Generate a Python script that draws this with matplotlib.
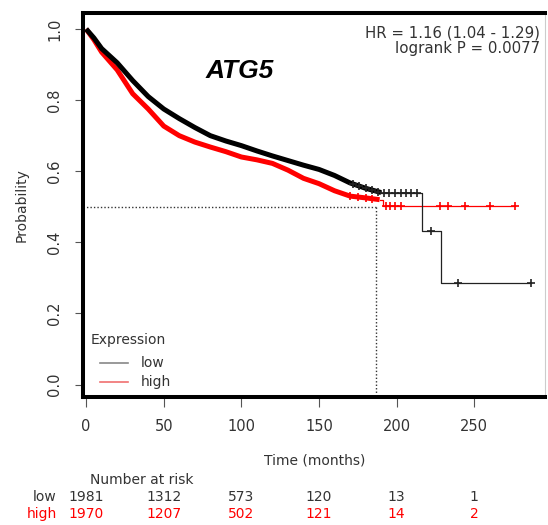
import numpy as np
import matplotlib
matplotlib.use("Agg")
import matplotlib.pyplot as plt
import matplotlib.transforms as mtransforms

# survival curves (months, probability)
low_t = [0, 5, 10, 20, 30, 40, 50, 60, 70, 80, 90, 100, 110, 120, 130, 140, 150, 160, 170, 180, 190]
low_s = [1.0, 0.975, 0.945, 0.905, 0.855, 0.81, 0.775, 0.748, 0.723, 0.70, 0.685, 0.672, 0.657,
         0.643, 0.63, 0.617, 0.605, 0.588, 0.567, 0.552, 0.54]
low_tail_t = [190, 216, 228.3, 286.5]
low_tail_s = [0.538, 0.431, 0.287, 0.287]
low_cens = [172, 176, 180, 184, 188, 192, 195, 199, 203, 206, 209, 213, 222, 239.4, 286.5]

high_t = [0, 5, 10, 20, 30, 40, 50, 60, 70, 80, 90, 100, 110, 120, 130, 140, 150, 160, 170, 180, 189]
high_s = [1.0, 0.97, 0.935, 0.885, 0.818, 0.775, 0.727, 0.70, 0.682, 0.668, 0.655, 0.64, 0.632,
          0.622, 0.603, 0.58, 0.565, 0.545, 0.53, 0.525, 0.52]
high_tail_t = [189, 191, 276.4]
high_tail_s = [0.52, 0.501, 0.501]
high_cens = [170, 175, 180, 184, 193, 196, 199, 203, 228, 233, 243.7, 259.8, 276.4]

median_t = 186.6
risk_times = [0, 50, 100, 150, 200, 250]
risk_low = [1981, 1312, 573, 120, 13, 1]
risk_high = [1970, 1207, 502, 121, 14, 2]

plt.rcParams['font.family'] = ['DejaVu Sans']

fig = plt.figure(figsize=(5.48, 5.25), dpi=100)
ax = fig.add_axes([83 / 548, 1 - 397 / 525, (545 - 83) / 548, (397 - 13) / 525])
ax.set_xlim(-2, 295.5)
ax.set_ylim(-0.035, 1.045)


def step_value(tt, ss, x):
    idx = np.searchsorted(tt, x, side='right') - 1
    return np.array(ss)[np.clip(idx, 0, len(ss) - 1)]


# median lines
ax.plot([-2, median_t], [0.5, 0.5], color='#333333', lw=1, ls=(0, (1, 1.5)), zorder=1)
ax.plot([median_t, median_t], [0.5, -0.035], color='#333333', lw=1, ls=(0, (1, 1.5)), zorder=1)

# low group
ax.plot(low_t, low_s, color='black', lw=3.6, solid_capstyle='butt', solid_joinstyle='round', zorder=3)
ax.step(low_tail_t, low_tail_s, where='post', color='#222222', lw=0.9, zorder=3)
lc = np.array(low_cens)
ly = np.where(lc < low_tail_t[0], np.interp(lc, low_t, low_s), step_value(low_tail_t, low_tail_s, lc))
ax.plot(lc, ly, ls='none', marker='+', ms=6, mew=1.2, color='#222222', zorder=4)

# high group
ax.plot(high_t, high_s, color='red', lw=3.6, solid_capstyle='butt', solid_joinstyle='round', zorder=2)
ax.step(high_tail_t, high_tail_s, where='post', color='red', lw=0.9, zorder=2)
hc = np.array(high_cens)
hy = np.where(hc < high_tail_t[0], np.interp(hc, high_t, high_s), step_value(high_tail_t, high_tail_s, hc))
ax.plot(hc, hy, ls='none', marker='+', ms=6, mew=1.2, color='red', zorder=2)

# frame
for side in ['left', 'bottom', 'top']:
    ax.spines[side].set_linewidth(2.9)
    ax.spines[side].set_color('black')
ax.spines['right'].set_linewidth(0.8)
ax.spines['right'].set_color('#cccccc')

ax.set_xticks(risk_times)
ax.set_yticks([0.0, 0.2, 0.4, 0.6, 0.8, 1.0])
ax.set_yticklabels(['0.0', '0.2', '0.4', '0.6', '0.8', '1.0'], rotation=90, va='center')
ax.tick_params(axis='x', length=7, width=0.8, color='#555555', pad=9, labelsize=10.5, labelcolor='#333333')
ax.tick_params(axis='y', length=6, width=0.8, color='#555555', pad=9, labelsize=10.5, labelcolor='#333333')

fig.text(22 / 548, 1 - 205 / 525, 'Probability', rotation=90, ha='center', va='center',
         fontsize=10, color='#333333')
fig.text(315 / 548, 1 - 461 / 525, 'Time (months)', ha='center', va='center',
         fontsize=10, color='#333333')

ax.text(99, 0.882, 'ATG5', ha='center', va='center', fontsize=19, fontweight='bold',
        fontstyle='italic', family=['Liberation Sans', 'DejaVu Sans'], color='black')
ax.text(0.99, 0.967, 'HR = 1.16 (1.04 - 1.29)\nlogrank P = 0.0077', transform=ax.transAxes,
        ha='right', va='top', fontsize=10.8, color='#333333', linespacing=1.05)

# legend
ax.text(3, 0.125, 'Expression', ha='left', va='center', fontsize=10, color='#333333')
ax.plot([9, 27], [0.062, 0.062], color='#888888', lw=1.2)
ax.plot([9, 27], [0.008, 0.008], color='#f07070', lw=1.2)
ax.text(35, 0.062, 'low', ha='left', va='center', fontsize=10, color='#333333')
ax.text(35, 0.008, 'high', ha='left', va='center', fontsize=10, color='#333333')

# number at risk table
trans = mtransforms.blended_transform_factory(ax.transData, fig.transFigure)
ax.text(36, 1 - 480 / 525, 'Number at risk', transform=trans, ha='center', va='center',
        fontsize=10, color='#333333', clip_on=False)
for t, n1, n2 in zip(risk_times, risk_low, risk_high):
    ax.text(t, 1 - 497 / 525, str(n1), transform=trans, ha='center', va='center',
            fontsize=10, color='#333333', clip_on=False)
    ax.text(t, 1 - 514 / 525, str(n2), transform=trans, ha='center', va='center',
            fontsize=10, color='red', clip_on=False)
ax.text(-19, 1 - 497 / 525, 'low', transform=trans, ha='right', va='center',
        fontsize=10, color='#333333', clip_on=False)
ax.text(-19, 1 - 514 / 525, 'high', transform=trans, ha='right', va='center',
        fontsize=10, color='red', clip_on=False)

fig.savefig('out.png', dpi=100)
